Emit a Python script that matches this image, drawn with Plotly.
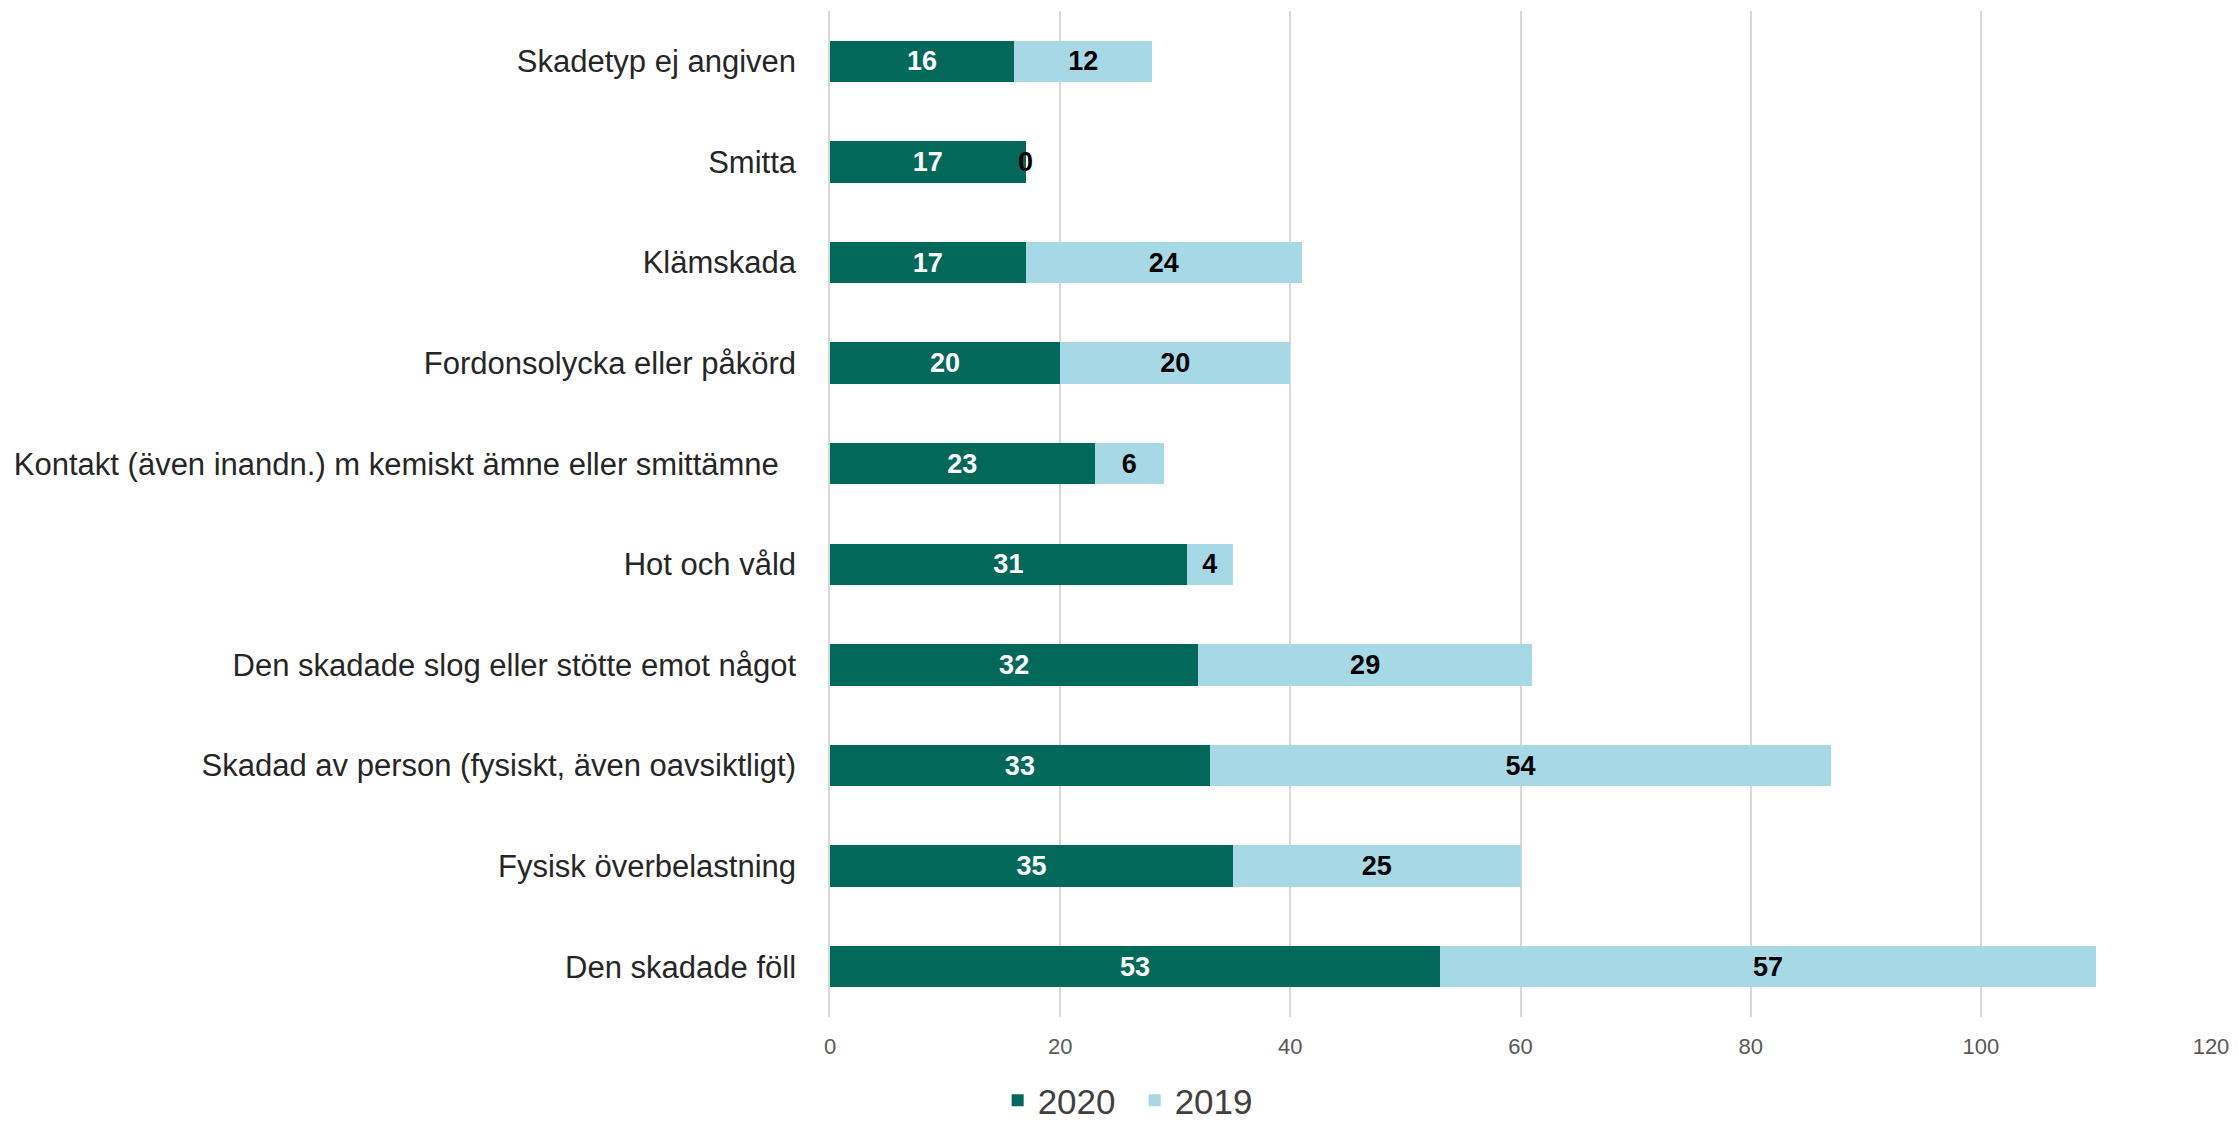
import plotly.graph_objects as go

# Data (bottom to top as drawn)
CATEGORIES = [
    "Den skadade föll",
    "Fysisk överbelastning",
    "Skadad av person (fysiskt, även oavsiktligt)",
    "Den skadade slog eller stötte emot något",
    "Hot och våld",
    "Kontakt (även inandn.) m kemiskt ämne eller smittämne\u00a0\u00a0",
    "Fordonsolycka eller påkörd",
    "Klämskada",
    "Smitta",
    "Skadetyp ej angiven",
]
VALUES_2020 = [53, 35, 33, 32, 31, 23, 20, 17, 17, 16]
VALUES_2019 = [57, 25, 54, 29, 4, 6, 20, 24, 0, 12]
X_TICKS = [0, 20, 40, 60, 80, 100, 120]

DARK_GREEN = "#02695A"
LIGHT_BLUE = "#A6D8E5"
FONT = "Liberation Sans, Arial, sans-serif"

fig = go.Figure()
fig.add_trace(
    go.Bar(
        y=CATEGORIES,
        x=VALUES_2020,
        name="2020",
        orientation="h",
        marker=dict(color=DARK_GREEN, line=dict(width=0)),
        text=VALUES_2020,
        textposition="inside",
        insidetextanchor="middle",
        textfont=dict(color="white", size=27, family=FONT, weight="bold"),
        constraintext="none",
    )
)
fig.add_trace(
    go.Bar(
        y=CATEGORIES,
        x=VALUES_2019,
        name="2019",
        orientation="h",
        marker=dict(color=LIGHT_BLUE, line=dict(width=0)),
        text=[v if v else "" for v in VALUES_2019],
        textposition="inside",
        insidetextanchor="middle",
        textfont=dict(color="black", size=27, family=FONT, weight="bold"),
        constraintext="none",
    )
)

# zero-width segments still get their label, drawn at the stack end
for cat, v20, v19 in zip(CATEGORIES, VALUES_2020, VALUES_2019):
    if v19 == 0:
        fig.add_annotation(
            x=v20 + v19,
            y=cat,
            text=f"<b>{v19}</b>",
            showarrow=False,
            font=dict(color="black", size=27, family=FONT),
        )

# page body has an 8px margin, so the figure is sized to fit the window
fig.update_layout(
    barmode="stack",
    bargap=0.59,
    width=2231,
    height=1116,
    paper_bgcolor="white",
    plot_bgcolor="white",
    font=dict(family=FONT, color="#404040"),
    margin=dict(l=822, r=28, t=3, b=107, autoexpand=False),
    showlegend=True,
    xaxis=dict(
        range=[0, 120],
        tickvals=X_TICKS,
        showgrid=True,
        gridcolor="#D9D9D9",
        gridwidth=1.5,
        zeroline=False,
        showline=False,
        tickfont=dict(size=22, color="#595959"),
        ticks="",
        ticklabelstandoff=14,
    ),
    yaxis=dict(
        showgrid=False,
        showline=True,
        linecolor="#D9D9D9",
        linewidth=1.5,
        tickfont=dict(size=31, color="#262626"),
        ticks="",
        ticklabelstandoff=26,
    ),
    legend=dict(
        orientation="h",
        xref="container",
        x=0.505,
        xanchor="center",
        yref="container",
        y=0.021,
        yanchor="middle",
        font=dict(size=35, color="#404040"),
        itemwidth=30,
        entrywidth=92,
        traceorder="normal",
    ),
)

fig.write_html("out.html")
